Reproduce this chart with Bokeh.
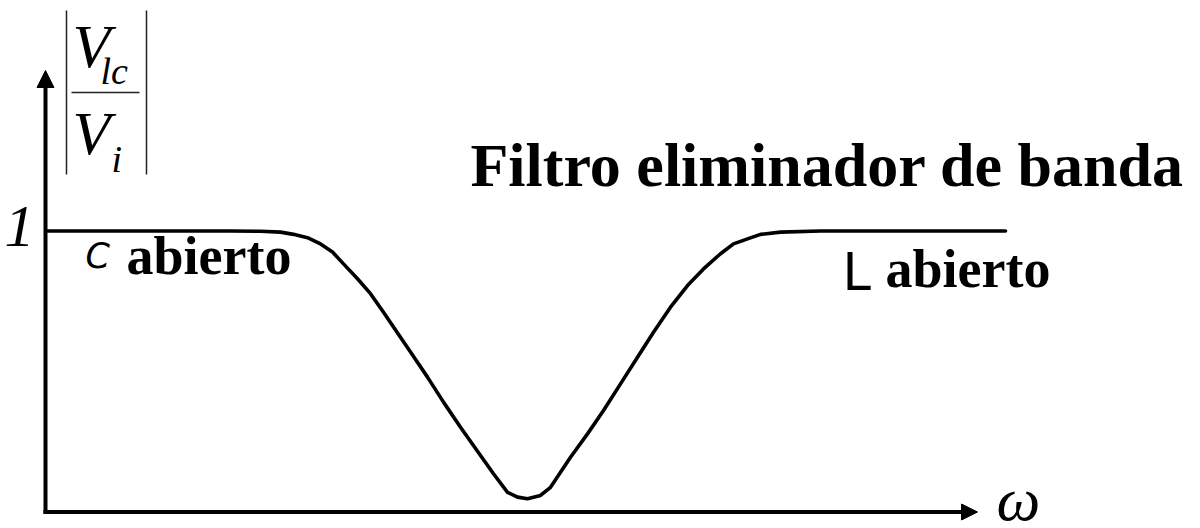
from bokeh.plotting import figure
from bokeh.models import Range1d, Arrow, NormalHead, ColumnDataSource
from bokeh.core.properties import value
from bokeh.embed import file_html
from bokeh.resources import INLINE

# ---- data (omega in arbitrary units, |Vlc/Vi| normalised) ----
omega = [0.02, 1.05, 1.85, 2.15, 2.35, 2.48, 2.62, 2.75, 2.87, 2.98, 3.12,
         3.25, 3.38, 3.48, 3.65, 3.82, 3.98, 4.15, 4.32, 4.48, 4.62, 4.72,
         4.82, 4.95, 5.05, 5.25, 5.42, 5.58, 5.75, 5.92, 6.08, 6.25, 6.42,
         6.58, 6.75, 6.88, 7.02, 7.15, 7.35, 7.75, 8.55, 9.6]
gain = [1.0, 1.0, 1.0, 0.999, 0.996, 0.988, 0.976, 0.954, 0.925, 0.883, 0.830,
        0.777, 0.711, 0.658, 0.569, 0.480, 0.391, 0.302, 0.216, 0.136, 0.070,
        0.053, 0.047, 0.059, 0.088, 0.195, 0.278, 0.361, 0.456, 0.551, 0.640,
        0.729, 0.806, 0.865, 0.919, 0.954, 0.972, 0.988, 0.996, 1.0, 1.0, 1.0]

title_text = "Filtro eliminador de banda"
left_label = ["C", "abierto"]
right_label = ["L", "abierto"]
y_tick_label = "1"
x_axis_label = "ω"
ratio_num = ["V", "lc"]
ratio_den = ["V", "i"]

W, H = 1200, 528
PXX = 100.0   # px per omega unit
PXY = 281.0   # px per gain unit
OX, OY = 45.0, 511.5  # origin on the canvas


def X(sx):
    return (sx - OX) / PXX


def Y(sy):
    return (OY - sy) / PXY


p = figure(width=W, height=H, output_backend="svg", toolbar_location=None,
           x_range=Range1d(X(0), X(W)), y_range=Range1d(Y(H), Y(0)),
           x_axis_location=None, y_axis_location=None, min_border=0,
           outline_line_color=None, background_fill_color="white",
           border_fill_color="white")
p.grid.visible = False

src = ColumnDataSource(dict(x=omega, y=gain))
p.line("x", "y", source=src, line_width=3.6, line_color="black",
       line_join="round", line_cap="round")

# axes with arrows
p.add_layout(Arrow(x_start=0, y_start=Y(513.5), x_end=0, y_end=Y(70),
                   line_width=4, line_color="black",
                   end=NormalHead(size=17, fill_color="black", line_color="black")))
p.add_layout(Arrow(x_start=X(43), y_start=0, x_end=X(977), y_end=0,
                   line_width=4, line_color="black",
                   end=NormalHead(size=16, fill_color="black", line_color="black")))

SERIF = "Liberation Serif"
SANS = "DejaVu Sans"


def lab(x_px, base_px, text, font, size, style="normal", align="left"):
    # base_px: wanted baseline position in canvas pixels
    p.text(x=[X(x_px)], y=[Y(base_px - 0.36 * size)], text=[text],
           text_font=value(font), text_font_size=f"{size}px",
           text_font_style=style, text_baseline="alphabetic",
           text_align=align, text_color="black")


# title
lab(470, 187, title_text, SERIF, 62, "bold")

# region labels
lab(85, 268, left_label[0], SANS, 35, "italic")
lab(126, 275, left_label[1], SERIF, 54, "bold")
lab(842, 290, right_label[0], SANS, 51)
lab(885, 288, right_label[1], SERIF, 54, "bold")

# y tick "1"
lab(19, 248, y_tick_label, SERIF, 60, "italic", "center")

# omega
lab(996, 521, x_axis_label, SERIF, 62, "italic")

# |Vlc / Vi|
lab(72, 68, ratio_num[0], SERIF, 62, "italic")
lab(100, 84, ratio_num[1], SERIF, 38, "italic")
lab(72, 155, ratio_den[0], SERIF, 62, "italic")
lab(111, 172, ratio_den[1], SERIF, 38, "italic")
p.segment(x0=[X(66), X(146), X(71)], y0=[Y(10), Y(10), Y(92)],
          x1=[X(66), X(146), X(139)], y1=[Y(174), Y(174), Y(92)],
          line_width=1.5, line_color="#222222")

open("out.html", "w").write(file_html(p, INLINE))
